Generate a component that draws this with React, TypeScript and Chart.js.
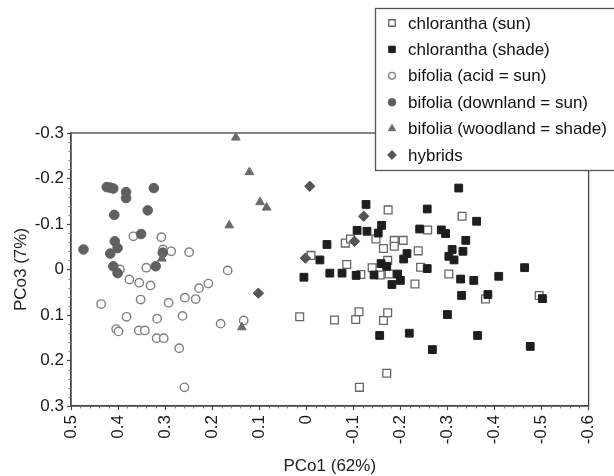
import React, { useEffect, useRef } from 'react';
import { Chart, registerables } from 'chart.js';
import { drawPoint } from 'chart.js/helpers';

Chart.register(...registerables);

// ---- data (PCo1, PCo3) ----
const chloranthaSun: [number, number][] = [
  [-0.174, -0.131], [-0.331, -0.117], [-0.258, -0.087], [-0.083, -0.058], [-0.094, -0.067],
  [-0.164, -0.046], [-0.148, -0.067], [-0.187, -0.064], [-0.206, -0.064], [-0.187, -0.051],
  [-0.238, -0.041], [-0.010, -0.031], [-0.086, -0.011], [-0.173, -0.020], [-0.140, -0.004],
  [-0.243, -0.005], [-0.116, 0.011], [-0.157, 0.012], [-0.176, 0.010], [-0.303, 0.010],
  [-0.231, 0.032], [-0.381, 0.065], [-0.495, 0.057], [0.014, 0.104], [-0.060, 0.111],
  [-0.105, 0.110], [-0.112, 0.093], [-0.164, 0.112], [-0.173, 0.095], [-0.171, 0.228],
  [-0.113, 0.259],
];

const chloranthaShade: [number, number][] = [
  [-0.324, -0.179], [-0.127, -0.143], [-0.257, -0.133], [-0.362, -0.106], [-0.108, -0.086],
  [-0.129, -0.084], [-0.160, -0.097], [-0.153, -0.080], [-0.241, -0.089], [-0.287, -0.087],
  [-0.296, -0.079], [-0.339, -0.064], [-0.044, -0.055], [-0.310, -0.044], [-0.333, -0.040],
  [-0.214, -0.035], [-0.207, -0.023], [-0.303, -0.029], [-0.314, -0.021], [-0.029, -0.021],
  [-0.464, -0.004], [-0.257, -0.002], [0.005, 0.017], [-0.050, 0.008], [-0.076, 0.008],
  [-0.106, 0.013], [-0.144, 0.012], [-0.159, -0.013], [-0.171, -0.007], [-0.194, 0.010],
  [-0.200, 0.024], [-0.182, 0.033], [-0.328, 0.021], [-0.356, 0.024], [-0.409, 0.015],
  [-0.330, 0.057], [-0.386, 0.055], [-0.502, 0.064], [-0.300, 0.099], [-0.156, 0.145],
  [-0.219, 0.140], [-0.364, 0.145], [-0.268, 0.176], [-0.476, 0.169],
];

const bifoliaAcid: [number, number][] = [
  [0.3675, -0.073], [0.308, -0.071], [0.3045, -0.044], [0.287, -0.040], [0.249, -0.038],
  [0.396, 0.000], [0.340, -0.004], [0.167, 0.002], [0.376, 0.022], [0.355, 0.029],
  [0.331, 0.035], [0.208, 0.031], [0.228, 0.041], [0.436, 0.076], [0.352, 0.066],
  [0.2925, 0.073], [0.258, 0.062], [0.235, 0.065], [0.382, 0.104], [0.317, 0.108],
  [0.263, 0.102], [0.182, 0.119], [0.133, 0.112], [0.404, 0.131], [0.399, 0.136],
  [0.356, 0.134], [0.343, 0.134], [0.318, 0.151], [0.303, 0.151], [0.270, 0.173],
  [0.259, 0.259],
];

const bifoliaDownland: [number, number][] = [
  [0.4735, -0.044], [0.424, -0.181], [0.417, -0.180], [0.410, -0.178], [0.383, -0.170],
  [0.383, -0.157], [0.324, -0.179], [0.408, -0.120], [0.337, -0.130], [0.351, -0.078],
  [0.407, -0.062], [0.401, -0.047], [0.4165, -0.035], [0.410, -0.007], [0.401, 0.008],
  [0.320, -0.007], [0.305, -0.037],
];

const bifoliaWoodland: [number, number][] = [
  [0.1497, -0.290], [0.1208, -0.214], [0.0982, -0.148], [0.0843, -0.136], [0.1637, -0.097],
  [0.137, 0.127], [0.307, -0.024],
];

const hybrids: [number, number][] = [
  [-0.0074, -0.183], [0.0019, -0.025], [0.1018, 0.052], [-0.122, -0.117], [-0.1024, -0.062],
];

const seriesLabels = [
  'chlorantha (sun)',
  'chlorantha (shade)',
  'bifolia (acid = sun)',
  'bifolia (downland = sun)',
  'bifolia (woodland = shade)',
  'hybrids',
];

const xTicks = [0.5, 0.4, 0.3, 0.2, 0.1, 0, -0.1, -0.2, -0.3, -0.4, -0.5, -0.6];
const yTicks = [-0.3, -0.2, -0.1, 0, 0.1, 0.2, 0.3];
const xTitle = 'PCo1 (62%)';
const yTitle = 'PCo3 (7%)';

const FONT = '"Liberation Sans", Arial, Helvetica, sans-serif';
const AXIS_COLOR = '#444';

const fmt = (v: number) => {
  const r = Math.round(v * 10) / 10;
  return r === 0 ? '0' : String(r);
};

const toPts = (arr: [number, number][]) => arr.map(([x, y]) => ({ x, y }));

const styles = [
  { pointStyle: 'rect', radius: 5.5, bg: '#ffffff', border: '#666666', bw: 1.3, legendRadius: 4.6 },
  { pointStyle: 'rect', radius: 5.5, bg: '#1e1e1e', border: '#1e1e1e', bw: 1, legendRadius: 4.6 },
  { pointStyle: 'circle', radius: 4.2, bg: '#ffffff', border: '#808080', bw: 1.4, legendRadius: 3.4 },
  { pointStyle: 'circle', radius: 4.8, bg: '#606060', border: '#606060', bw: 1, legendRadius: 3.8 },
  { pointStyle: 'triangle', radius: 5, bg: '#6a6a6a', border: '#6a6a6a', bw: 1, legendRadius: 4.2 },
  { pointStyle: 'rectRot', radius: 5.2, bg: '#555555', border: '#555555', bw: 1, legendRadius: 4.4 },
];

const framePlugin = {
  id: 'frameAndMinor',
  beforeDatasetsDraw(chart: any) {
    const { ctx, chartArea } = chart;
    const { left, right, top, bottom } = chartArea;
    ctx.save();
    ctx.strokeStyle = AXIS_COLOR;
    ctx.lineWidth = 1.3;
    ctx.strokeRect(left, top, right - left, bottom - top);
    // minor ticks
    ctx.lineWidth = 1;
    ctx.strokeStyle = '#777';
    const xs = chart.scales.x;
    const ys = chart.scales.y;
    ctx.beginPath();
    for (let i = -30; i <= 25; i++) {
      if (i % 5 === 0) continue;
      const px = Math.round(xs.getPixelForValue(i * 0.02)) + 0.5;
      ctx.moveTo(px, bottom);
      ctx.lineTo(px, bottom + 2.5);
    }
    for (let i = -15; i <= 15; i++) {
      if (i % 5 === 0) continue;
      const py = Math.round(ys.getPixelForValue(i * 0.02)) + 0.5;
      ctx.moveTo(left, py);
      ctx.lineTo(left - 2.5, py);
    }
    ctx.stroke();
    ctx.restore();
  },
};

const legendPlugin = {
  id: 'boxLegend',
  afterDraw(chart: any) {
    const ctx = chart.ctx;
    ctx.save();
    ctx.fillStyle = '#ffffff';
    ctx.fillRect(375, 8, 260, 162);
    ctx.strokeStyle = '#555';
    ctx.lineWidth = 1.3;
    ctx.strokeRect(375.5, 8.5, 260, 162);
    ctx.font = `17px ${FONT}`;
    ctx.textBaseline = 'middle';
    ctx.textAlign = 'left';
    chart.data.datasets.forEach((ds: any, i: number) => {
      const y = 23 + i * 26.4;
      const st = styles[i];
      ctx.fillStyle = st.bg;
      ctx.strokeStyle = st.border;
      ctx.lineWidth = st.bw;
      drawPoint(ctx, { pointStyle: st.pointStyle, radius: st.legendRadius, rotation: 0, borderWidth: st.bw } as any, 392, y);
      ctx.fillStyle = '#111';
      ctx.fillText(ds.label, 408, y + 1);
    });
    ctx.restore();
  },
};

export default function App() {
  const ref = useRef<HTMLCanvasElement | null>(null);

  useEffect(() => {
    document.body.style.margin = '0';
    document.body.style.overflow = 'hidden';
    const canvas = ref.current;
    if (!canvas) return;
    const series = [chloranthaSun, chloranthaShade, bifoliaAcid, bifoliaDownland, bifoliaWoodland, hybrids];
    const orders = [6, 5, 4, 3, 2, 1];
    const chart = new Chart(canvas, {
      type: 'scatter',
      data: {
        datasets: series.map((s, i) => ({
          label: seriesLabels[i],
          data: toPts(s),
          pointStyle: styles[i].pointStyle as any,
          pointRadius: styles[i].radius,
          pointHoverRadius: styles[i].radius,
          backgroundColor: styles[i].bg,
          borderColor: styles[i].border,
          pointBorderWidth: styles[i].bw,
          borderWidth: styles[i].bw,
          order: orders[i],
          clip: false as any,
        })),
      },
      options: {
        responsive: false,
        animation: false,
        devicePixelRatio: 1,
        layout: { padding: { top: 133, right: 22, left: 0, bottom: 0 } },
        plugins: {
          legend: { display: false },
          tooltip: { enabled: false },
        },
        scales: {
          x: {
            type: 'linear',
            min: -0.6,
            max: 0.5,
            reverse: true,
            afterBuildTicks: (scale: any) => {
              scale.ticks = xTicks.map((v) => ({ value: v }));
            },
            afterFit: (scale: any) => {
              scale.height = 70;
            },
            ticks: {
              autoSkip: false,
              minRotation: 90,
              maxRotation: 90,
              padding: 5,
              color: '#1a1a1a',
              font: { family: FONT, size: 17 },
              callback: (v: any) => fmt(Number(v)),
            },
            grid: {
              drawOnChartArea: false,
              drawTicks: true,
              tickLength: 4,
              tickColor: AXIS_COLOR,
              tickWidth: 1.2,
            },
            border: { display: true, color: AXIS_COLOR, width: 1.3 },
            title: {
              display: true,
              text: xTitle,
              color: '#222',
              font: { family: FONT, size: 17, lineHeight: 1.1 },
              padding: { top: 0, bottom: 0 },
            },
          },
          y: {
            type: 'linear',
            min: -0.3,
            max: 0.3,
            reverse: true,
            afterBuildTicks: (scale: any) => {
              scale.ticks = yTicks.map((v) => ({ value: v }));
            },
            afterFit: (scale: any) => {
              scale.width = 71;
            },
            ticks: {
              autoSkip: false,
              padding: 3,
              color: '#1a1a1a',
              font: { family: FONT, size: 17 },
              callback: (v: any) => fmt(Number(v)),
            },
            grid: {
              drawOnChartArea: false,
              drawTicks: true,
              tickLength: 4,
              tickColor: AXIS_COLOR,
              tickWidth: 1.2,
            },
            border: { display: true, color: AXIS_COLOR, width: 1.3 },
            title: {
              display: true,
              text: yTitle,
              color: '#222',
              font: { family: FONT, size: 17 },
              padding: { top: 11, bottom: 0 },
            },
          },
        },
      },
      plugins: [framePlugin, legendPlugin],
    });
    return () => chart.destroy();
  }, []);

  return (
    <div style={{ width: 614, height: 476 }}>
      <canvas ref={ref} width={614} height={476} style={{ display: 'block', width: 614, height: 476 }} />
    </div>
  );
}
